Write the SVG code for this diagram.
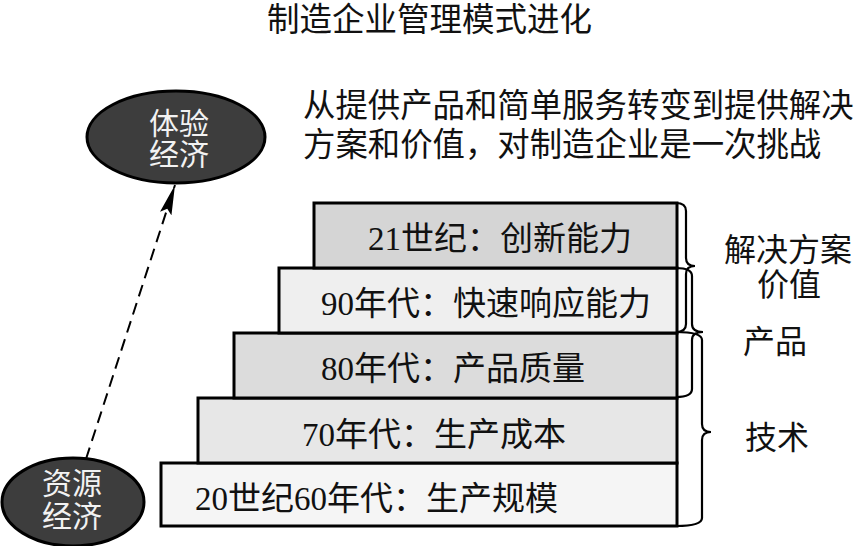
<svg xmlns="http://www.w3.org/2000/svg" width="860" height="546" viewBox="0 0 860 546">
<defs>
<style>
text{font-family:"Liberation Serif","Noto Sans CJK SC",serif;fill:#111;}
.big{font-size:32px;}
.bt{font-size:33px;}
.note{font-size:32.4px;}
.box{stroke:#000;stroke-width:3;}
.ell{fill:#3d3d3d;stroke:#000;stroke-width:3;}
.etxt{font-size:30px;fill:#f2f2f2;text-anchor:middle;}
.brace{fill:none;stroke:#000;stroke-width:2.2;}
.mid{text-anchor:middle;}
</style>
<marker id="ah2" viewBox="0 0 30 12" refX="30" refY="6" markerWidth="30" markerHeight="12" markerUnits="userSpaceOnUse" orient="auto">
<path d="M0,0 L30,6 L0,12 L5,6 Z" fill="#000"/>
</marker>
</defs>
<rect width="860" height="546" fill="#fff"/>

<g id="title">
<text class="big" x="267" y="31" style="font-size:32.5px">制造企业管理模式进化</text>
</g>
<g id="note">
<text class="note" x="303" y="117">从提供产品和简单服务转变到提供解决</text>
<text class="note" x="303" y="156">方案和价值，对制造企业是一次挑战</text>
</g>

<g id="connectors">
<line x1="86" y1="459" x2="175" y2="185" stroke="#000" stroke-width="2" stroke-dasharray="12,7" marker-end="url(#ah2)"/>
<path class="brace" d="M676,203 Q686,203 686,211 L686,258 Q686,266 695,266 Q686,266 686,274 L686,324 Q686,332 676,332"/>
<path class="brace" d="M676,268 Q692,268 692,276 L692,324 Q692,332 703,332 Q692,332 692,340 L692,389 Q692,397 676,397"/>
<path class="brace" d="M676,332 Q702,332 702,340 L702,424 Q702,432 711,432 Q702,432 702,440 L702,518 Q702,526 676,526"/>
</g>

<g id="box5">
<rect class="box" x="161" y="463" width="516" height="63" fill="#f5f5f5"/>
<text class="bt" x="195" y="510">20世纪60年代：生产规模</text>
</g>
<g id="box4">
<rect class="box" x="198" y="398" width="479" height="65" fill="#e7e7e7"/>
<text class="bt" x="302" y="446">70年代：生产成本</text>
</g>
<g id="box3">
<rect class="box" x="234" y="333" width="443" height="65" fill="#dcdcdc"/>
<text class="bt" x="321" y="380">80年代：产品质量</text>
</g>
<g id="box2">
<rect class="box" x="279" y="268" width="398" height="65" fill="#efefef"/>
<text class="bt" x="321" y="315">90年代：快速响应能力</text>
</g>
<g id="box1">
<rect class="box" x="314" y="203" width="363" height="65" fill="#d5d5d5"/>
<text class="bt" x="368" y="250">21世纪：创新能力</text>
</g>

<g id="label-solution">
<text class="big mid" x="788" y="261">解决方案</text>
<text class="big mid" x="789" y="296">价值</text>
</g>
<g id="label-product">
<text class="big mid" x="775" y="353">产品</text>
</g>
<g id="label-tech">
<text class="big mid" x="777" y="449">技术</text>
</g>

<g id="experience-economy">
<ellipse class="ell" cx="176" cy="137" rx="89" ry="46"/>
<text class="etxt" x="179" y="134">体验</text>
<text class="etxt" x="179" y="165">经济</text>
</g>
<g id="resource-economy">
<ellipse class="ell" cx="73" cy="502" rx="71" ry="44"/>
<text class="etxt" x="72" y="494">资源</text>
<text class="etxt" x="72" y="527">经济</text>
</g>
</svg>
